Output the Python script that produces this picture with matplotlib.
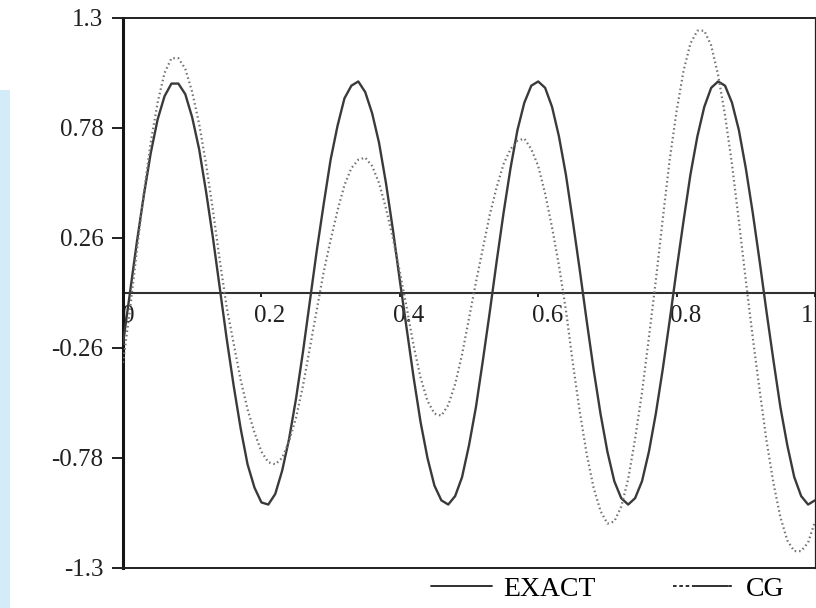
import matplotlib
matplotlib.use("Agg")
import matplotlib.pyplot as plt
from matplotlib.patches import Rectangle
from matplotlib.transforms import ScaledTranslation

# sample positions along the domain
x_vals = [i / 100 for i in range(101)]

# exact solution
exact = [
    -0.24, 0.00, 0.24, 0.46, 0.66, 0.82, 0.93, 0.99, 0.99, 0.94,
    0.83, 0.68, 0.48, 0.26, 0.02, -0.22, -0.44, -0.64, -0.81, -0.92,
    -0.99, -1.00, -0.95, -0.84, -0.69, -0.50, -0.28, -0.04, 0.20, 0.42,
    0.63, 0.79, 0.92, 0.98, 1.00, 0.95, 0.85, 0.71, 0.52, 0.30,
    0.06, -0.17, -0.40, -0.61, -0.78, -0.91, -0.98, -1.00, -0.96, -0.87,
    -0.72, -0.54, -0.32, -0.09, 0.15, 0.38, 0.59, 0.77, 0.90, 0.98,
    1.00, 0.97, 0.88, 0.74, 0.56, 0.34, 0.11, -0.13, -0.36, -0.57,
    -0.75, -0.89, -0.97, -1.00, -0.97, -0.89, -0.75, -0.57, -0.36, -0.13,
    0.11, 0.34, 0.56, 0.74, 0.88, 0.97, 1.00, 0.98, 0.90, 0.77,
    0.59, 0.38, 0.15, -0.09, -0.32, -0.54, -0.72, -0.87, -0.96, -1.00,
    -0.98,
]

# conjugate-gradient reconstruction
cg = [
    -0.33, -0.08, 0.20, 0.47, 0.71, 0.90, 1.04, 1.11, 1.11, 1.06,
    0.95, 0.80, 0.61, 0.39, 0.15, -0.07, -0.24, -0.41, -0.55, -0.66,
    -0.75, -0.80, -0.81, -0.78, -0.70, -0.59, -0.44, -0.26, -0.08, 0.10,
    0.25, 0.39, 0.51, 0.59, 0.63, 0.64, 0.60, 0.52, 0.40, 0.26,
    0.10, -0.07, -0.25, -0.40, -0.51, -0.57, -0.58, -0.53, -0.43, -0.29,
    -0.12, 0.05, 0.21, 0.37, 0.50, 0.61, 0.68, 0.72, 0.73, 0.68,
    0.60, 0.47, 0.31, 0.13, -0.08, -0.33, -0.56, -0.76, -0.92, -1.03,
    -1.09, -1.08, -1.01, -0.88, -0.69, -0.47, -0.21, 0.06, 0.35, 0.63,
    0.86, 1.05, 1.18, 1.24, 1.24, 1.17, 1.03, 0.84, 0.61, 0.34,
    0.06, -0.21, -0.46, -0.70, -0.90, -1.06, -1.17, -1.22, -1.22, -1.18,
    -1.08,
]

y_ticks = [-1.3, -0.78, -0.26, 0.26, 0.78, 1.3]
y_tick_labels = ["-1.3", "-0.78", "-0.26", "0.26", "0.78", "1.3"]
x_ticks = [0, 0.2, 0.4, 0.6, 0.8, 1]
x_tick_labels = ["0", "0.2", "0.4", "0.6", "0.8", "1"]
series_names = ["EXACT", "CG"]

plt.rcParams["font.family"] = ["Liberation Serif", "DejaVu Serif"]

fig = plt.figure(figsize=(8.16, 6.08), dpi=100)
fig.patch.set_facecolor("white")

# pale strip down the left edge of the page
fig.patches.append(Rectangle((0, 0), 10 / 816, (608 - 90) / 608,
                             transform=fig.transFigure, facecolor="#d4ecf9",
                             edgecolor="none", zorder=0))

ax = fig.add_axes([123 / 816, 40 / 608, 692 / 816, 550 / 608])
ax.set_xlim(0, 1)
ax.set_ylim(-1.3, 1.3)

ax.plot(x_vals, exact, color="#3a3a3a", lw=1.7, solid_joinstyle="round",
        solid_capstyle="round", label=series_names[0], zorder=3)
ax.plot(x_vals, cg, color="#747474", lw=1.6, linestyle=(0, (0.7, 1.3)),
        label=series_names[1], zorder=3)

# frame
for side in ["top", "bottom", "right"]:
    ax.spines[side].set_linewidth(1.4)
    ax.spines[side].set_color("#202020")
ax.spines["right"].set_linewidth(0.9)
ax.spines["left"].set_linewidth(2.2)
ax.spines["left"].set_color("#151515")

# y axis
ax.set_yticks(y_ticks, labels=y_tick_labels)
ax.tick_params(axis="y", direction="out", length=8, width=1.4, pad=6,
               labelsize=18, colors="#202020")
ax.tick_params(axis="x", bottom=False, labelbottom=False)

# x axis drawn through y = 0
secax = ax.secondary_xaxis(0.5)
secax.set_alignment("bottom")
secax.spines["bottom"].set_linewidth(1.5)
secax.spines["bottom"].set_color("#303030")
secax.set_xticks(x_ticks, labels=x_tick_labels)
secax.tick_params(axis="x", direction="out", length=3, width=1.4, pad=6,
                  labelsize=18, colors="#202020")
offsets = [5, 8, 9, 9, 9, -8]
for lbl, dx in zip(secax.get_xticklabels(), offsets):
    lbl.set_transform(lbl.get_transform() +
                      ScaledTranslation(dx / 100, 0, fig.dpi_scale_trans))

handles, labels = ax.get_legend_handles_labels()
leg = fig.legend(handles, labels, loc="center", ncol=2,
                 bbox_to_anchor=(0.7445, 0.031), frameon=False,
                 fontsize=20, handlelength=2.2, handletextpad=0.4,
                 columnspacing=2.8, borderpad=0.0)
for h in leg.legend_handles:
    h.set_color("#202020")
    h.set_linewidth(1.3)
leg.legend_handles[1].set_linestyle((0, (2, 1.5, 2, 1.5, 2, 1.5, 20, 0.1)))

fig.savefig("out.png", dpi=100, facecolor="white")
